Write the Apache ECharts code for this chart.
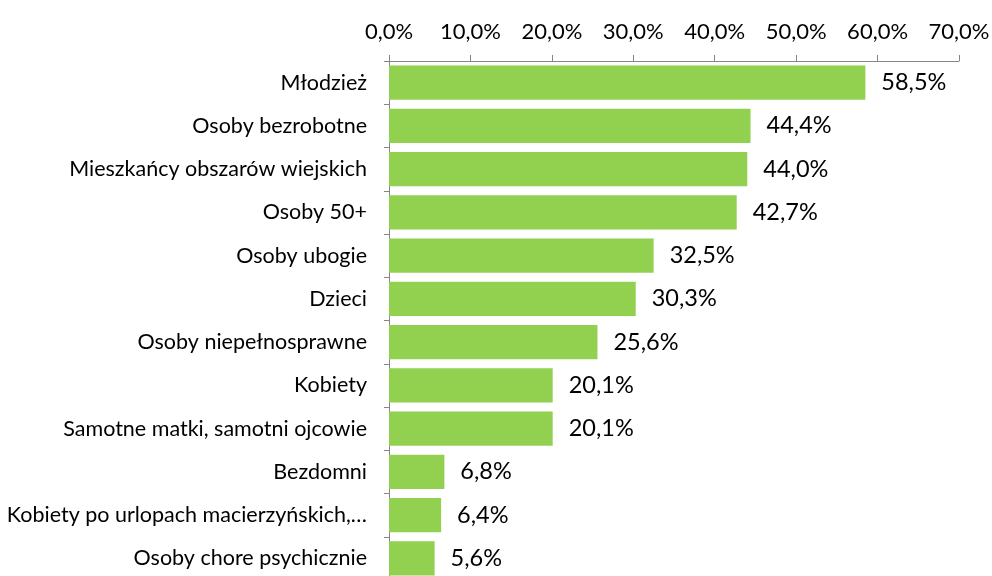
<!DOCTYPE html>
<html>
<head>
<meta charset="utf-8">
<script src="https://cdn.jsdelivr.net/npm/echarts@6/dist/echarts.min.js"></script>
<style>
  html, body { margin: 0; padding: 0; background: #fff; }
  #main { width: 992px; height: 576px; }
</style>
</head>
<body>
<div id="main"></div>
<script>
// kategorie i wartości (%)
var categories = [
  "Młodzież",
  "Osoby bezrobotne",
  "Mieszkańcy obszarów wiejskich",
  "Osoby 50+",
  "Osoby ubogie",
  "Dzieci",
  "Osoby niepełnosprawne",
  "Kobiety",
  "Samotne matki, samotni ojcowie",
  "Bezdomni",
  "Kobiety po urlopach macierzyńskich,…",
  "Osoby chore psychicznie"
];
var values = [58.5, 44.4, 44.0, 42.7, 32.5, 30.3, 25.6, 20.1, 20.1, 6.8, 6.4, 5.6];
var axisMin = 0, axisMax = 70, axisStep = 10;

function pct(v, d) {
  return v.toFixed(d).replace(".", ",") + "%";
}

(function() {
    var myChart = echarts.init(document.getElementById("main"));
    var font = "Lato, 'Open Sans', sans-serif";
    var option = {
        animation: false,
        grid: {
            left: 389,
            right: 33,
            top: 61,
            bottom: -4,
            containLabel: false,
            outerBoundsMode: "none"
        },
        xAxis: {
            type: "value",
            position: "top",
            min: axisMin,
            max: axisMax,
            interval: axisStep,
            axisLine: { show: true, lineStyle: { color: "#868686", width: 1 } },
            axisTick: { show: true, length: 6, lineStyle: { color: "#868686" } },
            splitLine: { show: false },
            axisLabel: {
                color: "#000",
                fontSize: 22,
                fontFamily: font,
                margin: 18,
                formatter: function(v) { return pct(v, 1); }
            }
        },
        yAxis: {
            type: "category",
            inverse: true,
            data: categories,
            axisLine: { show: true, lineStyle: { color: "#868686", width: 1 } },
            axisTick: { show: true, length: 5, lineStyle: { color: "#868686" } },
            axisLabel: {
                color: "#000",
                fontSize: 21.5,
                fontFamily: font,
                margin: 22
            }
        },
        series: [{
            type: "bar",
            data: values,
            barCategoryGap: "21%",
            itemStyle: { color: "#92d050" },
            label: {
                show: true,
                position: "right",
                distance: 16,
                color: "#000",
                fontSize: 23.5,
                fontFamily: font,
                formatter: function(p) { return pct(p.value, 1); }
            }
        }]
    };
    myChart.setOption(option);
})();
</script>
</body>
</html>
